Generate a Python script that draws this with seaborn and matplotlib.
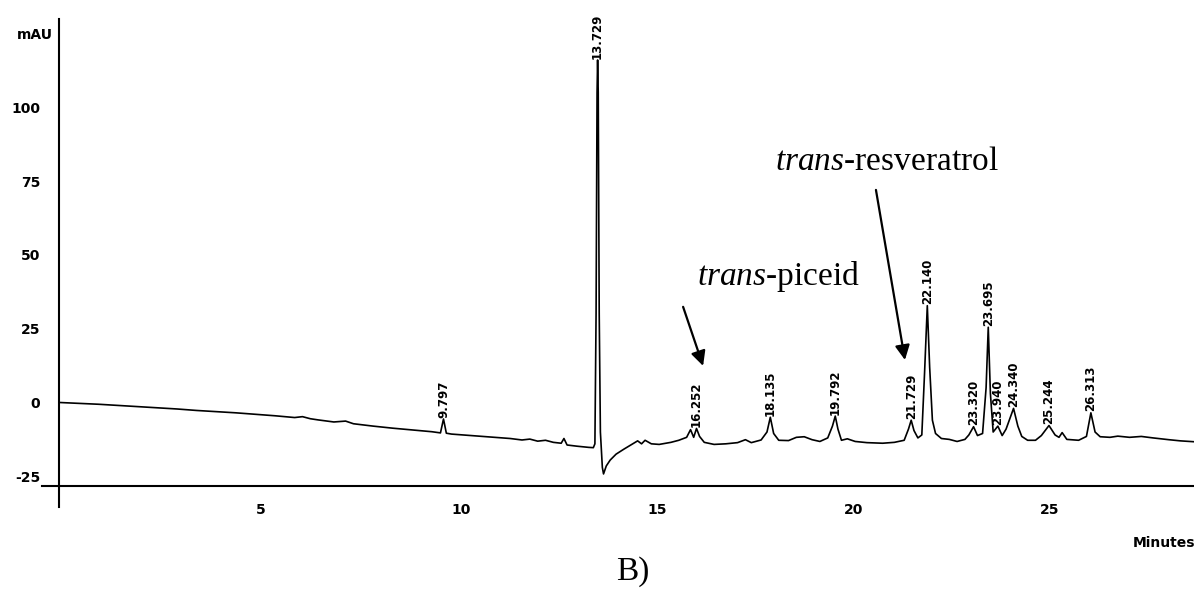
import numpy as np
import matplotlib
matplotlib.use('Agg')
import matplotlib.pyplot as plt
import matplotlib.transforms as mtransforms
import seaborn as sns

# Chromatogram trace (retention time in min, absorbance in mAU)
time_min = [
    0.0, 0.5, 1.0, 1.5, 2.0, 2.5, 3.0, 3.5, 4.0, 4.5, 5.0, 5.5, 6.0, 6.2, 6.4, 6.6,
    7.0, 7.3, 7.5, 8.0, 8.5, 9.0, 9.5, 9.72, 9.797, 9.87, 10.0, 10.5, 11.0, 11.5,
    11.8, 12.0, 12.2, 12.4, 12.6, 12.8, 12.87, 12.95, 13.2, 13.5, 13.62, 13.66,
    13.69, 13.715, 13.729, 13.745, 13.77, 13.80, 13.85, 13.88, 13.95, 14.05, 14.2,
    14.4, 14.6, 14.75, 14.85, 14.94, 15.1, 15.3, 15.6, 15.8, 16.0, 16.1, 16.18,
    16.252, 16.33, 16.45, 16.7, 17.0, 17.3, 17.5, 17.65, 17.9, 18.05, 18.135,
    18.22, 18.35, 18.6, 18.8, 19.0, 19.2, 19.4, 19.6, 19.72, 19.792, 19.86, 19.95,
    20.1, 20.3, 20.6, 21.0, 21.3, 21.55, 21.66, 21.729, 21.8, 21.9, 22.0, 22.07,
    22.14, 22.2, 22.27, 22.35, 22.5, 22.7, 22.9, 23.1, 23.2, 23.32, 23.42, 23.55,
    23.64, 23.695, 23.75, 23.82, 23.94, 24.05, 24.15, 24.34, 24.45, 24.55, 24.7,
    24.9, 25.05, 25.244, 25.4, 25.5, 25.58, 25.7, 26.0, 26.2, 26.313, 26.42,
    26.55, 26.8, 27.0, 27.3, 27.6, 27.9, 28.3, 28.6, 28.95,
]
signal_mau = [
    0.0, -0.3, -0.6, -1.0, -1.4, -1.8, -2.2, -2.7, -3.1, -3.5, -4.0, -4.5, -5.1, -4.8, -5.5, -5.9,
    -6.6, -6.3, -7.2, -8.0, -8.7, -9.3, -9.9, -10.3, -5.6, -10.4, -10.7, -11.2, -11.7, -12.2,
    -12.7, -12.4, -13.1, -12.8, -13.5, -13.8, -12.2, -14.4, -14.8, -15.2, -15.3, -14.0,
    30.0, 105.0, 116.0, 105.0, 30.0, -10.0, -22.0, -24.2, -21.5, -19.5, -17.5,
    -15.8, -14.2, -13.0, -14.0, -12.8, -14.0, -14.2, -13.5, -12.8, -11.8, -9.2, -11.8,
    -8.8, -11.5, -13.5, -14.2, -14.0, -13.6, -12.6, -13.6, -12.7, -10.0, -5.0,
    -10.5, -12.8, -12.9, -11.8, -11.6, -12.6, -13.2, -12.0, -8.0, -4.6, -9.0, -12.8,
    -12.3, -13.2, -13.6, -13.8, -13.5, -12.8, -9.0, -6.0, -9.5, -12.0, -11.0, 10.0,
    32.8, 12.0, -6.0, -10.5, -12.2, -12.5, -13.2, -12.5, -11.0, -8.2, -11.2, -10.5,
    5.0, 25.5, 3.0, -10.0, -8.0, -11.2, -9.0, -2.0, -8.0, -11.5, -12.8,
    -12.8, -11.2, -7.8, -11.0, -11.8, -10.2, -12.5, -12.8, -11.5, -3.5, -10.0,
    -11.6, -11.8, -11.4, -11.8, -11.5, -12.0, -12.6, -13.0, -13.3,
]

# Integrated peaks (retention times printed on the trace)
peak_times = [9.797, 13.729, 16.252, 18.135, 19.792, 21.729, 22.140,
              23.320, 23.695, 23.940, 24.340, 25.244, 26.313]

x_ticks = [5, 10, 15, 20, 25]
y_ticks = [-25, 0, 25, 50, 75, 100, 125]
y_tick_labels = ['-25', '0', '25', '50', '75', '100', 'mAU']

sns.set_style('white')
plt.rcParams['font.family'] = ['DejaVu Sans']
plt.rcParams['text.color'] = 'black'
plt.rcParams['mathtext.fontset'] = 'custom'
plt.rcParams['mathtext.rm'] = 'Liberation Serif'
plt.rcParams['mathtext.it'] = 'Liberation Serif:italic'

fig = plt.figure(figsize=(11.94, 5.95), dpi=100)
ax = fig.add_axes([0.0498, 0.1474, 0.9504, 0.8212])

sns.lineplot(x=time_min, y=signal_mau, ax=ax, color='black', linewidth=1.2)

ax.set_xlim(0, 28.95)
ax.set_ylim(-35.5, 130)

# chromatography-software style axes
for side in ['top', 'right']:
    ax.spines[side].set_visible(False)
ax.spines['left'].set_linewidth(1.5)
ax.spines['bottom'].set_linewidth(1.5)
ax.spines['bottom'].set_position(('data', -28.3))
ax.spines['bottom'].set_bounds(-0.45, 28.95)
for sp in ax.spines.values():
    sp.set_color('black')

ax.set_xticks(x_ticks)
ax.set_xticklabels([str(t) for t in x_ticks], fontsize=10, fontweight='bold', ha='left')
ax.set_yticks(y_ticks)
ax.set_yticklabels(y_tick_labels, fontsize=10, fontweight='bold')
ax.set_xticks([28.9], minor=True)
ax.set_yticks([130], minor=True)
ax.tick_params(axis='x', which='major', direction='out', length=8, width=1.3, pad=4, colors='black')
ax.tick_params(axis='y', which='major', direction='out', length=13, width=1.3, pad=1, colors='black')
ax.tick_params(which='minor', direction='out', length=8, width=1.3, colors='black')
ax.set_xlabel('')
ax.set_ylabel('')

# the "mAU" unit label sits over its tick, nudge it right
mau_label = ax.get_yticklabels()[-1]
mau_label.set_transform(mau_label.get_transform() +
                        mtransforms.ScaledTranslation(9 / 72, 0, fig.dpi_scale_trans))

# retention time labels above each peak
for rt in peak_times:
    apex = np.interp(rt, time_min, signal_mau)
    ax.text(rt, apex + 0.5, f'{rt:.3f}', rotation=90, ha='center', va='bottom',
            fontsize=8.5, fontweight='bold', color='black')

# compound annotations
ax.text(16.26, 39.8, r'$\mathit{trans}$-piceid', fontsize=24,
        family='Liberation Serif', va='baseline', color='black')
ax.annotate('', xy=(16.42, 12.4), xytext=(15.91, 32.4),
            arrowprops=dict(arrowstyle='-|>', color='black', lw=1.6,
                            mutation_scale=22, shrinkA=0, shrinkB=0))
ax.text(18.25, 78.8, r'$\mathit{trans}$-resveratrol', fontsize=24,
        family='Liberation Serif', va='baseline', color='black')
ax.annotate('', xy=(21.57, 14.4), xytext=(20.83, 72.0),
            arrowprops=dict(arrowstyle='-|>', color='black', lw=1.6,
                            mutation_scale=22, shrinkA=0, shrinkB=0))

fig.text(1133 / 1194, 1 - 543 / 595, 'Minutes', fontsize=10, fontweight='bold',
         ha='left', va='center', color='black')
fig.text(0.53, 0.040, 'B)', family='Liberation Serif', fontsize=24,
         ha='center', va='center', color='black')

fig.savefig('out.png', dpi=100)
